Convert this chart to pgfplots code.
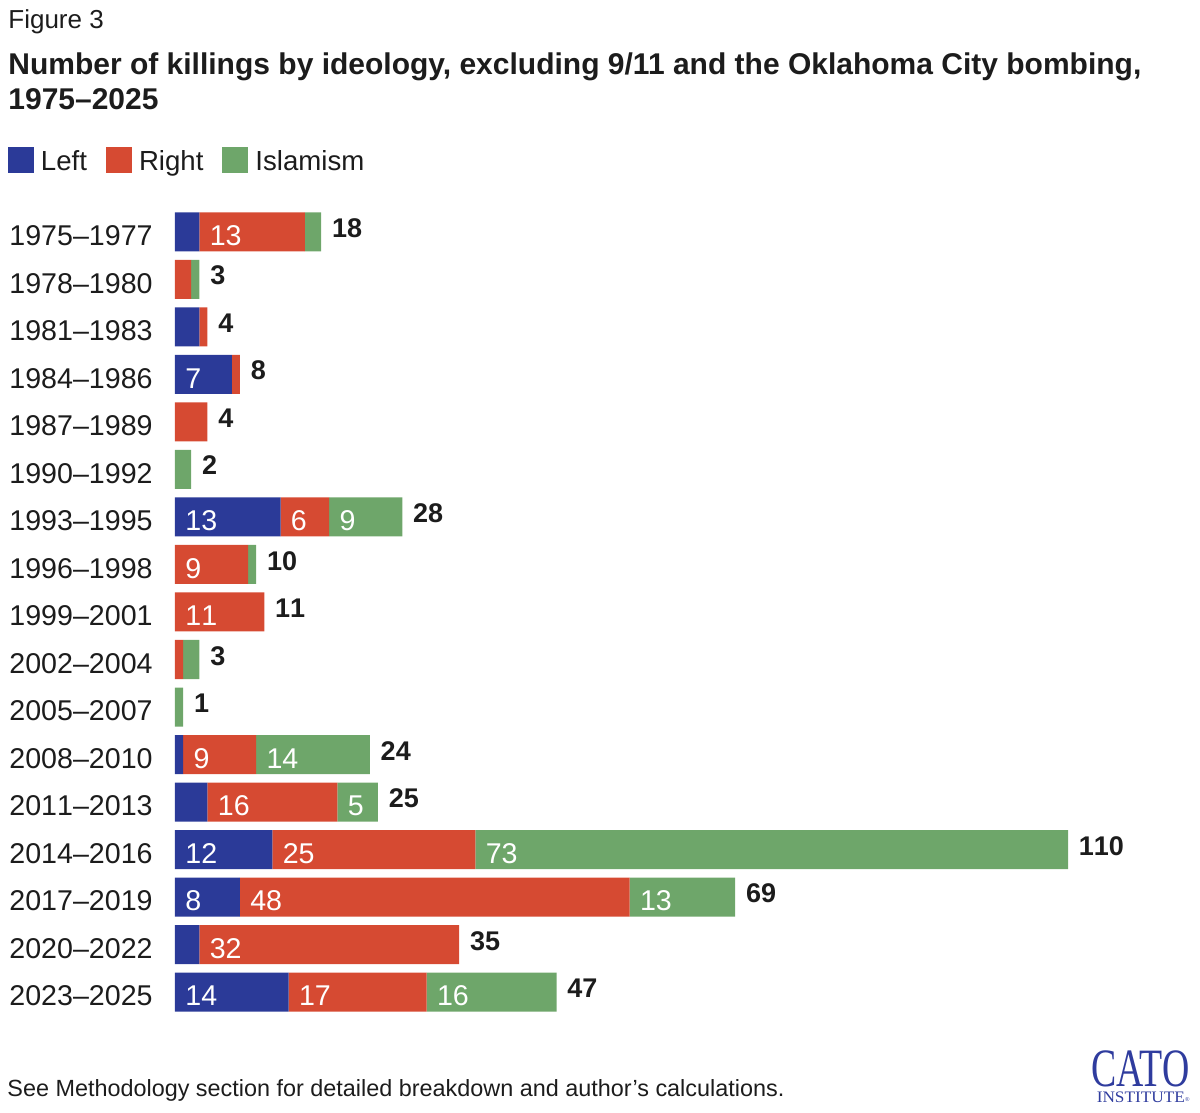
\documentclass[border=0pt]{standalone}
\usepackage{fontspec}
\setmainfont{Liberation Sans}
\newfontfamily\numfont{Liberation Sans}[Kerning=Off, Ligatures=TeX]
\newfontfamily\catofont{Liberation Serif}
\usepackage{graphicx}
\usepackage{pgfplots}
\pgfplotsset{compat=1.18}

\definecolor{leftblue}{HTML}{2B3A98}
\definecolor{rightred}{HTML}{D64A32}
\definecolor{islamgreen}{HTML}{6EA66A}
\definecolor{catoblue}{HTML}{2F3C9E}
\definecolor{ink}{HTML}{1C1C1C}

\newcommand\yearfont{\numfont\fontsize{14.3}{16}\selectfont}

\pgfplotsset{
  frame/.style={
    scale only axis, width=446.5pt, height=403.75pt,
    at={(87.5pt,48.625pt)}, anchor=south west,
    xmin=0, xmax=110, ymin=-0.5, ymax=16.5, y dir=reverse,
    axis line style={draw=none}, tick style={draw=none},
    major tick length=0pt, xtick=\empty, clip=false,
  },
  sqlegend/.style={legend image code/.code={\fill[##1] (0pt,-1.5pt) rectangle (13pt,11.5pt);}},
  seglabel/.style={draw=none, mark=none, nodes near coords, point meta=explicit symbolic,
    nodes near coords style={anchor=base west, inner sep=0pt, text=white,
      font=\yearfont, xshift=5pt, yshift=-6.85pt}},
}

\begin{document}
\begin{tikzpicture}
\useasboundingbox (0,0) rectangle (600pt,556.5pt);

% headings
\node[anchor=base west, inner sep=0pt, text=ink, font=\fontsize{13}{15}\selectfont]
  at (4pt,542pt) {Figure 3};
\node[anchor=base west, inner sep=0pt, text=ink, font=\fontsize{15}{17}\selectfont\bfseries]
  at (4pt,519pt) {Number of killings by ideology, excluding 9/11 and the Oklahoma City bombing,};
\node[anchor=base west, inner sep=0pt, text=ink, font=\fontsize{15}{17}\selectfont\bfseries]
  at (4pt,501.5pt) {1975--2025};

\begin{axis}[frame,
  xbar stacked, bar width=19.5pt,
  ytick={0,...,16},
  yticklabels={1975--1977,1978--1980,1981--1983,1984--1986,1987--1989,1990--1992,
    1993--1995,1996--1998,1999--2001,2002--2004,2005--2007,2008--2010,
    2011--2013,2014--2016,2017--2019,2020--2022,2023--2025},
  yticklabel style={font=\yearfont, text=ink, anchor=base east, inner sep=0pt,
    xshift=-11pt, yshift=-6.85pt},
  legend columns=-1,
  legend style={at={(axis description cs:0,1)}, anchor=north west,
    xshift=-83.5pt, yshift=30.6pt, draw=none, fill=none, inner sep=0pt, outer sep=0pt,
    font=\fontsize{13.8}{16}\selectfont, text=ink,
    nodes={inner sep=0pt}, cells={anchor=base west},
    /tikz/every odd column/.append style={column sep=3.5pt},
    /tikz/every even column/.append style={column sep=9.5pt}},
]
\addplot[fill=leftblue, draw=none, sqlegend] coordinates {
  (3,0) (0,1) (3,2) (7,3) (0,4) (0,5) (13,6) (0,7) (0,8)
  (0,9) (0,10) (1,11) (4,12) (12,13) (8,14) (3,15) (14,16)};
\addplot[fill=rightred, draw=none, sqlegend] coordinates {
  (13,0) (2,1) (1,2) (1,3) (4,4) (0,5) (6,6) (9,7) (11,8)
  (1,9) (0,10) (9,11) (16,12) (25,13) (48,14) (32,15) (17,16)};
\addplot[fill=islamgreen, draw=none, sqlegend] coordinates {
  (2,0) (1,1) (0,2) (0,3) (0,4) (2,5) (9,6) (1,7) (0,8)
  (2,9) (1,10) (14,11) (5,12) (73,13) (13,14) (0,15) (16,16)};
\legend{Left,Right,Islamism}
\end{axis}

\begin{axis}[frame, hide axis]
% segment labels, placed at the start of each segment
\addplot[seglabel] coordinates {
  (0,3) [7] (0,6) [13] (0,13) [12] (0,14) [8] (0,16) [14]};
\addplot[seglabel] coordinates {
  (3,0) [13] (13,6) [6] (0,7) [9] (0,8) [11] (1,11) [9] (4,12) [16]
  (12,13) [25] (8,14) [48] (3,15) [32] (14,16) [17]};
\addplot[seglabel] coordinates {
  (19,6) [9] (10,11) [14] (20,12) [5] (37,13) [73] (56,14) [13] (31,16) [16]};
% totals
\addplot[draw=none, mark=none, nodes near coords, point meta=explicit symbolic,
  nodes near coords style={anchor=base west, inner sep=0pt, text=ink,
    font=\numfont\fontsize{13.5}{15}\selectfont\bfseries, xshift=5.25pt, yshift=-2.75pt}]
  coordinates {
  (18,0) [18] (3,1) [3] (4,2) [4] (8,3) [8] (4,4) [4] (2,5) [2] (28,6) [28]
  (10,7) [10] (11,8) [11] (3,9) [3] (1,10) [1] (24,11) [24] (25,12) [25]
  (110,13) [110] (69,14) [69] (35,15) [35] (47,16) [47]};
\end{axis}

% footnote and logo
\node[anchor=base west, inner sep=0pt, text=ink, font=\fontsize{11.7}{14}\selectfont]
  at (3.5pt,8pt) {See Methodology section for detailed breakdown and author’s calculations.};
\node[anchor=south east, inner sep=0pt, text=catoblue, align=right,
  font=\catofont\fontsize{8}{8}\selectfont] at (595pt,5pt)
  {{\fontsize{27}{8}\selectfont\scalebox{0.7}[1]{CATO}}\\
   \scalebox{1.08}[1]{INSTITUTE}\raisebox{0.5pt}{\fontsize{3}{3}\selectfont\textregistered}};
\end{tikzpicture}
\end{document}
